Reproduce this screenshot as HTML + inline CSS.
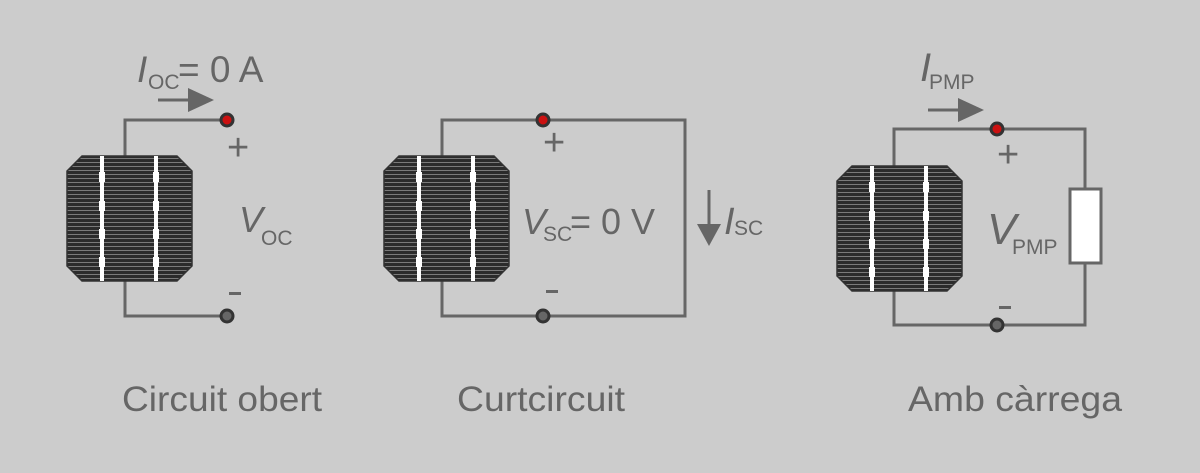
<!DOCTYPE html>
<html><head><meta charset="utf-8"><style>
html,body{margin:0;padding:0;background:#cccccc;}
svg{display:block;font-family:"Liberation Sans",Arial,sans-serif;}
</style></head><body>
<svg width="1200" height="473" viewBox="0 0 1200 473" xmlns="http://www.w3.org/2000/svg">
<defs>
<pattern id="st" x="0" y="0" width="4" height="4" patternUnits="userSpaceOnUse">
<rect width="4" height="4" fill="#2b2b2b"/><rect y="2" width="4" height="1" fill="#7a7a7a"/>
</pattern>
<g id="cell">
<polygon points="15,0 110,0 125,15 125,110 110,125 15,125 0,110 0,15" fill="url(#st)" stroke="#333" stroke-width="1.5"/>
<rect x="33" y="0" width="4" height="125" fill="#fff"/>
<rect x="87" y="0" width="4" height="125" fill="#fff"/>
<g fill="#fff">
<rect x="32" y="16" width="6" height="10"/><rect x="32" y="45" width="6" height="10"/><rect x="32" y="73" width="6" height="10"/><rect x="32" y="101" width="6" height="10"/>
<rect x="86" y="16" width="6" height="10"/><rect x="86" y="45" width="6" height="10"/><rect x="86" y="73" width="6" height="10"/><rect x="86" y="101" width="6" height="10"/>
</g>
</g>
</defs>
<g fill="none" stroke="#666" stroke-width="3">
<polyline points="125,156 125,120 227,120"/>
<polyline points="125,281 125,316 227,316"/>
<polyline points="442,156 442,120 685,120 685,316 442,316 442,281"/>
<polyline points="894,166 894,129 1085,129 1085,189"/>
<polyline points="894,291 894,325 1085,325 1085,263"/>
<line x1="158" y1="100" x2="190" y2="100"/>
<line x1="928" y1="110" x2="960" y2="110"/>
<line x1="709" y1="190" x2="709" y2="226"/>
</g>
<g fill="#666">
<polygon points="188,88 214,100 188,112"/>
<polygon points="958,98 984,110 958,122"/>
<polygon points="697,224 721,224 709,246"/>
<rect x="229" y="292" width="12" height="3"/>
<rect x="546" y="290" width="12" height="3"/>
<rect x="999" y="306" width="12" height="3"/>
</g>
<rect x="1070" y="189" width="31" height="74" fill="#fff" stroke="#666" stroke-width="3"/>
<use href="#cell" x="67" y="156"/>
<use href="#cell" x="384" y="156"/>
<use href="#cell" x="837" y="166"/>
<g stroke="#333" stroke-width="3">
<circle cx="227" cy="120" r="6" fill="#cc1111"/>
<circle cx="227" cy="316" r="6" fill="#666"/>
<circle cx="543" cy="120" r="6" fill="#cc1111"/>
<circle cx="543" cy="316" r="6" fill="#666"/>
<circle cx="997" cy="129" r="6" fill="#cc1111"/>
<circle cx="997" cy="325" r="6" fill="#666"/>
</g>
<g fill="#666">
<text x="137" y="82" font-size="37" font-style="italic">I</text>
<text x="148" y="89" font-size="21">OC</text>
<text x="178" y="82" font-size="37">= 0 A</text>
<text x="227" y="160" font-size="38">+</text>
<text x="239" y="232" font-size="36" font-style="italic">V</text>
<text x="261" y="245" font-size="21">OC</text>

<text x="543" y="155" font-size="38">+</text>
<text x="522" y="234" font-size="36" font-style="italic">V</text>
<text x="543" y="241" font-size="21">SC</text>
<text x="570" y="234" font-size="36">= 0 V</text>
<text x="724" y="234" font-size="38" font-style="italic">I</text>
<text x="734" y="235" font-size="21">SC</text>

<text x="920" y="81" font-size="40" font-style="italic">I</text>
<text x="929" y="89" font-size="21">PMP</text>
<text x="997" y="167" font-size="38">+</text>
<text x="987" y="244" font-size="44" font-style="italic">V</text>
<text x="1012" y="254" font-size="21">PMP</text>

<text x="122" y="411" font-size="35" textLength="200" lengthAdjust="spacingAndGlyphs">Circuit obert</text>
<text x="457" y="411" font-size="35" textLength="168" lengthAdjust="spacingAndGlyphs">Curtcircuit</text>
<text x="908" y="411" font-size="35" textLength="214" lengthAdjust="spacingAndGlyphs">Amb càrrega</text>
</g>
</svg>
</body></html>
